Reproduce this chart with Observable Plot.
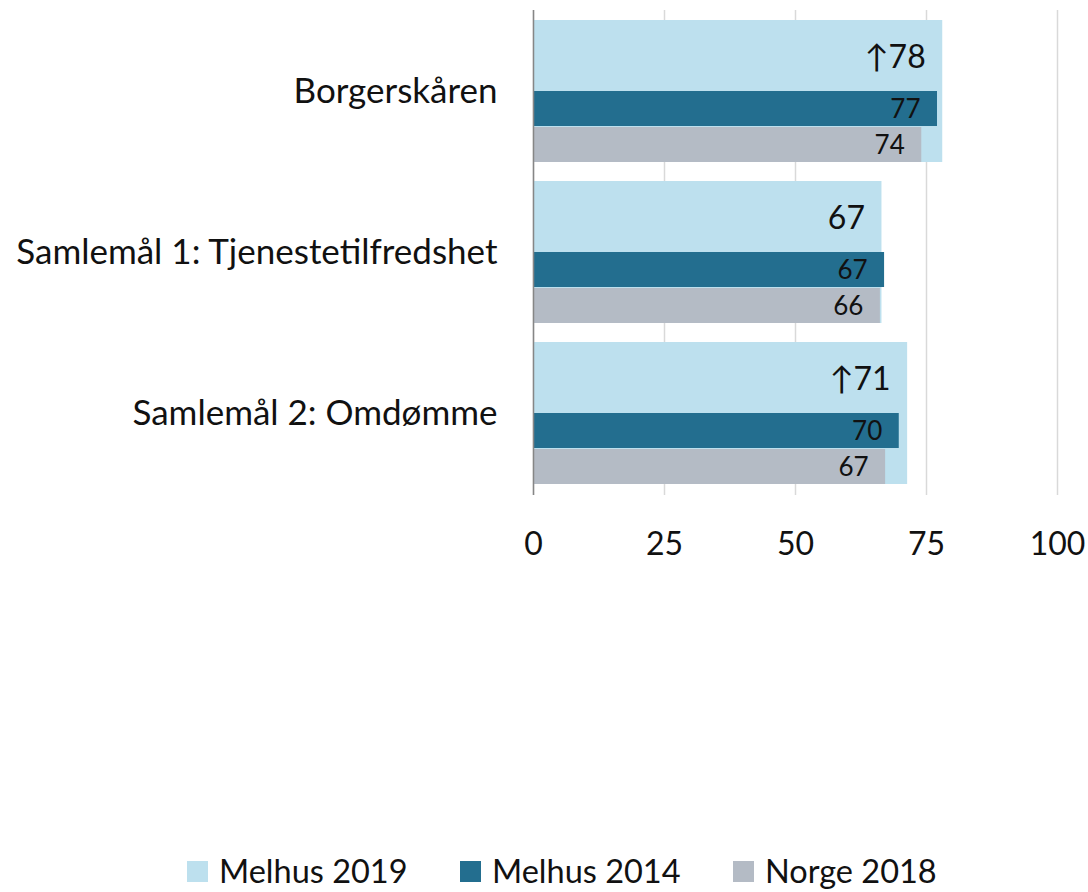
<!DOCTYPE html>
<html>
<head>
<meta charset="utf-8">
<script src="https://cdn.jsdelivr.net/npm/d3@7"></script>
<script src="https://cdn.jsdelivr.net/npm/@observablehq/plot@0.6"></script>
<style>
  html, body { margin: 0; padding: 0; background: #fff; }
  #wrap { position: relative; width: 1088px; height: 892px; overflow: hidden; font-family: Lato, "DejaVu Sans", sans-serif; color: #111; }
  #legend { position: absolute; left: 187px; top: 856px; display: flex; align-items: center; font-size: 32.5px; line-height: 30px; white-space: nowrap; }
  .item { display: flex; align-items: center; gap: 11px; width: 273px; flex: none; }
  .sw { width: 21px; height: 21px; display: inline-block; }
</style>
</head>
<body>
<div id="wrap"><div id="chart"></div><div id="legend"></div></div>
<script>
const categories = ["Borgerskåren", "Samlemål 1: Tjenestetilfredshet", "Samlemål 2: Omdømme"];
const melhus2019 = [78.1, 66.5, 71.4];
const melhus2014 = [77.1, 67.0, 69.8];
const norge2018 = [74.1, 66.2, 67.2];
const change2019 = ["↑", "", "↑"];
const seriesNames = ["Melhus 2019", "Melhus 2014", "Norge 2018"];
const seriesColors = ["#bde0ee", "#236e8f", "#b4bbc5"];
const xTicks = [0, 25, 50, 75, 100];

const rows = categories.map((c, i) => ({
  cat: c, m2019: melhus2019[i], m2014: melhus2014[i], n2018: norge2018[i], change: change2019[i]
}));

const chart = Plot.plot({
  width: 1088,
  height: 600,
  marginLeft: 533,
  marginRight: 31,
  marginTop: 10,
  marginBottom: 105,
  style: { fontFamily: "Lato, 'DejaVu Sans', sans-serif", fontSize: "32px", color: "#111", background: "#fff" },
  x: { domain: [0, 100] },
  y: { domain: categories, paddingInner: 0.115, paddingOuter: 0.06 },
  marks: [
    Plot.ruleX(xTicks, { stroke: "#d9d9d9", strokeWidth: 1.5 }),
    Plot.barX(rows, { x: "m2019", y: "cat", fill: seriesColors[0] }),
    Plot.barX(rows, { x: "m2014", y: "cat", fill: seriesColors[1], insetTop: 71, insetBottom: 36 }),
    Plot.barX(rows, { x: "n2018", y: "cat", fill: seriesColors[2], insetTop: 107 }),
    Plot.text(rows, { x: "m2019", y: "cat", text: d => d.change + Math.round(d.m2019), textAnchor: "end", dx: -17, dy: -34, fontSize: 32, fill: "#111" }),
    Plot.text(rows, { x: "m2014", y: "cat", text: d => String(Math.round(d.m2014)), textAnchor: "end", dx: -17, dy: 18, fontSize: 26, fill: "#111" }),
    Plot.text(rows, { x: "n2018", y: "cat", text: d => String(Math.round(d.n2018)), textAnchor: "end", dx: -17, dy: 54, fontSize: 26, fill: "#111" }),
    Plot.ruleX([0], { stroke: "#868686", strokeWidth: 1.5 }),
    Plot.axisX({ ticks: xTicks, tickSize: 0, tickPadding: 37, fontSize: 32, label: null }),
    Plot.axisY({ tickSize: 0, tickPadding: 36, fontSize: 35, label: null })
  ]
});
document.getElementById("chart").appendChild(chart);

const legend = document.getElementById("legend");
seriesNames.forEach((name, i) => {
  const item = document.createElement("div");
  item.className = "item";
  const sw = document.createElement("span");
  sw.className = "sw";
  sw.style.background = seriesColors[i];
  const t = document.createElement("span");
  t.textContent = name;
  item.appendChild(sw);
  item.appendChild(t);
  legend.appendChild(item);
});
</script>
</body>
</html>
